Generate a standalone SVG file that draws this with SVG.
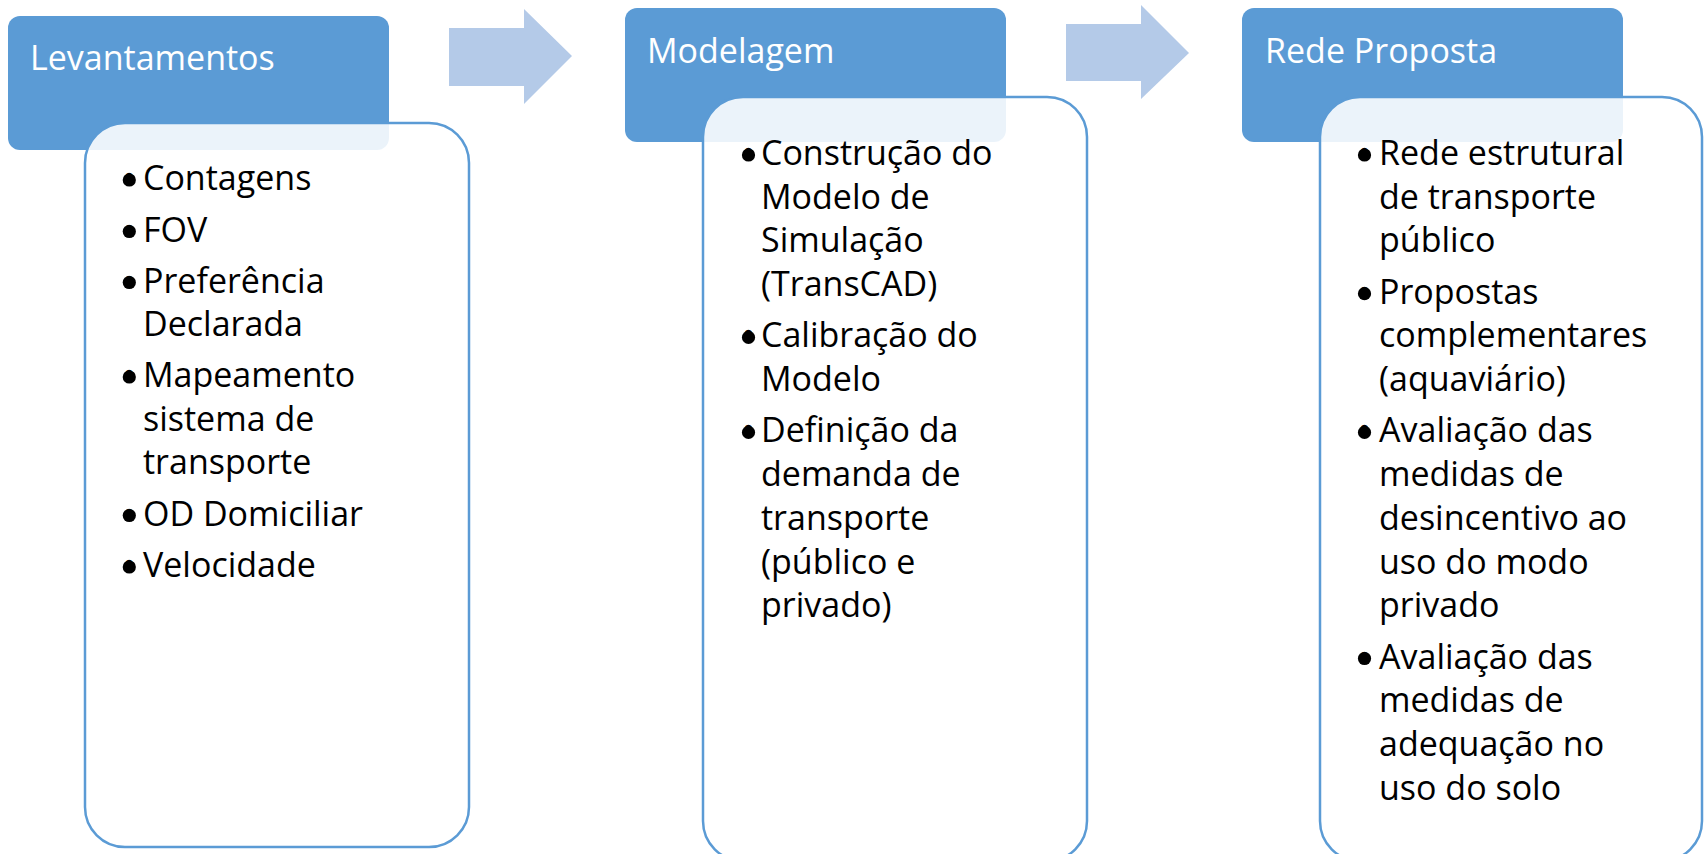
<svg xmlns="http://www.w3.org/2000/svg" width="1704" height="854" viewBox="0 0 1704 854">
<style>
.hdr{fill:#5B9BD5;}
.box{fill:#FFFFFF;fill-opacity:0.88;stroke:#5B9BD5;stroke-width:2.5;}
.arr{fill:#B4CAE8;}
.ht{font-family:"Open Sans","Noto Sans",sans-serif;font-size:34px;fill:#FFFFFF;}
.bt{font-family:"Open Sans","Noto Sans",sans-serif;font-size:34px;fill:#000000;}
.dot{fill:#000000;}
</style>
<defs>
<circle id="b" r="6.6"/>
</defs>
<rect width="1704" height="854" fill="#FFFFFF"/>
<g id="connectors">
<polygon class="arr" points="449,28 524,28 524,9 572,56 524,104 524,86 449,86"/>
<polygon class="arr" points="1066,24 1141,24 1141,5 1189,53 1141,99 1141,81 1066,81"/>
</g>
<g id="node-levantamentos">
<rect class="hdr" x="8" y="16" width="381" height="134" rx="12"/>
<text class="ht" x="30" y="70">Levantamentos</text>
<rect class="box" x="85" y="123" width="384" height="724" rx="40"/>
<g class="dot">
<use href="#b" x="129.3" y="180"/>
<use href="#b" x="129.3" y="231.5"/>
<use href="#b" x="129.3" y="282.5"/>
<use href="#b" x="129.3" y="377"/>
<use href="#b" x="129.3" y="515.5"/>
<use href="#b" x="129.3" y="567"/>
</g>
<g class="bt">
<text x="122.8" y="190">•<tspan x="143">Contagens</tspan></text>
<text x="122.8" y="241.5">•<tspan x="143">FOV</tspan></text>
<text x="122.8" y="292.5">•<tspan x="143">Preferência</tspan></text>
<text x="143" y="336">Declarada</text>
<text x="122.8" y="387">•<tspan x="143">Mapeamento</tspan></text>
<text x="143" y="430.5">sistema de</text>
<text x="143" y="474.2">transporte</text>
<text x="122.8" y="525.5">•<tspan x="143">OD Domiciliar</tspan></text>
<text x="122.8" y="577">•<tspan x="143">Velocidade</tspan></text>
</g>
</g>
<g id="node-modelagem">
<rect class="hdr" x="625" y="8" width="381" height="134" rx="12"/>
<text class="ht" x="647" y="63">Modelagem</text>
<rect class="box" x="703" y="97" width="384" height="764" rx="40"/>
<g class="dot">
<use href="#b" x="748.5" y="155"/>
<use href="#b" x="748.5" y="337.4"/>
<use href="#b" x="748.5" y="432.4"/>
</g>
<g class="bt">
<text x="742" y="165">•<tspan x="761">Construção do</tspan></text>
<text x="761" y="208.7">Modelo de</text>
<text x="761" y="252.4">Simulação</text>
<text x="761" y="296.1">(TransCAD)</text>
<text x="742" y="347.4">•<tspan x="761">Calibração do</tspan></text>
<text x="761" y="391.1">Modelo</text>
<text x="742" y="442.4">•<tspan x="761">Definição da</tspan></text>
<text x="761" y="486.1">demanda de</text>
<text x="761" y="529.8">transporte</text>
<text x="761" y="573.5">(público e</text>
<text x="761" y="617.2">privado)</text>
</g>
</g>
<g id="node-rede-proposta">
<rect class="hdr" x="1242" y="8" width="381" height="134" rx="12"/>
<text class="ht" x="1265" y="63">Rede Proposta</text>
<rect class="box" x="1320" y="97" width="382" height="764" rx="40"/>
<g class="dot">
<use href="#b" x="1364.5" y="155"/>
<use href="#b" x="1364.5" y="293.7"/>
<use href="#b" x="1364.5" y="432.4"/>
<use href="#b" x="1364.5" y="658.5"/>
</g>
<g class="bt">
<text x="1358" y="165">•<tspan x="1379">Rede estrutural</tspan></text>
<text x="1379" y="208.7">de transporte</text>
<text x="1379" y="252.4">público</text>
<text x="1358" y="303.7">•<tspan x="1379">Propostas</tspan></text>
<text x="1379" y="347.4">complementares</text>
<text x="1379" y="391.1">(aquaviário)</text>
<text x="1358" y="442.4">•<tspan x="1379">Avaliação das</tspan></text>
<text x="1379" y="486.1">medidas de</text>
<text x="1379" y="529.8">desincentivo ao</text>
<text x="1379" y="573.5">uso do modo</text>
<text x="1379" y="617.2">privado</text>
<text x="1358" y="668.5">•<tspan x="1379">Avaliação das</tspan></text>
<text x="1379" y="712.2">medidas de</text>
<text x="1379" y="755.9">adequação no</text>
<text x="1379" y="799.6">uso do solo</text>
</g>
</g>
</svg>
